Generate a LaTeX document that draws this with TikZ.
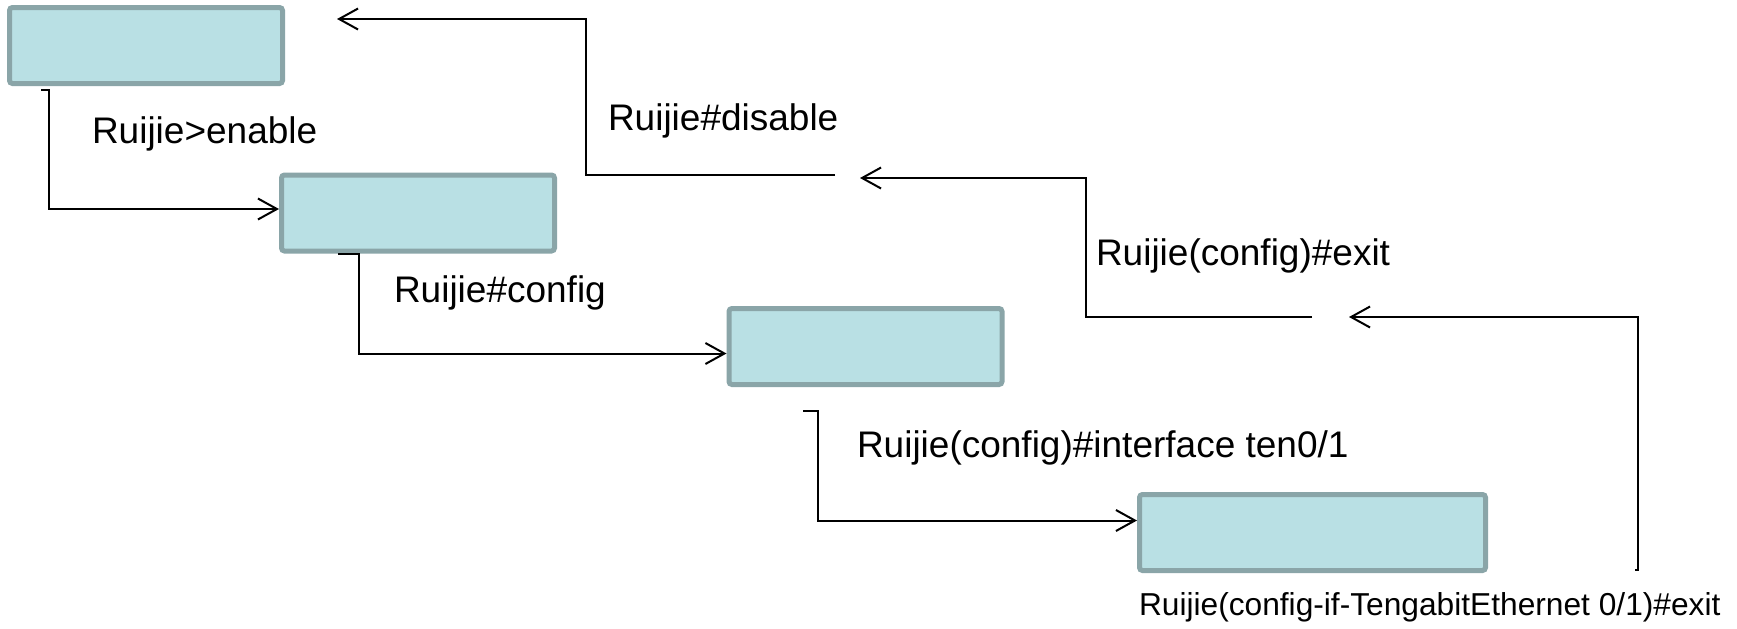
\documentclass[tikz,border=0pt]{standalone}
\usepackage{fontspec}
\setmainfont{Liberation Sans}
\usepackage{tikz}
\usetikzlibrary{arrows.meta}
\definecolor{boxfill}{RGB}{185,224,228}
\definecolor{boxline}{RGB}{138,165,168}
\tikzstyle{stagebox}=[draw=boxline,%
                      fill=boxfill,%
                      rectangle,%
                      rounded corners=1.5pt,%
                      line width=2.5pt,%
                      minimum width=136.5pt,%
                      minimum height=38pt]
\tikzstyle{widebox}=[stagebox, minimum width=173pt]
\tikzstyle{cmd}=[anchor=base west, inner sep=0pt, font=\fontsize{18.5}{22}\selectfont]
\tikzstyle{smallcmd}=[cmd, font=\fontsize{15.85}{19}\selectfont]

\begin{document}
\begin{tikzpicture}[x=0.5pt, y=-0.5pt, line width=1pt,
                    >={Straight Barb[length=9.5pt,width=10.5pt]}]
            \path[fill=white,use as bounding box] (0,0) rectangle (1737,628);
            \node[stagebox] (a) at (146,45.5)    {};
            \node[stagebox] (b) at (418,213)     {};
            \node[stagebox] (c) at (865.5,346.5) {};
            \node[widebox]  (d) at (1312.5,532.5) {};
            \node[cmd] (enable)  at (91,143)  {Ruijie>enable};
            \node[cmd] (config)  at (393,302) {Ruijie\#config};
            \node[cmd] (iface)   at (856,457) {Ruijie(config)\#interface ten0/1};
            \node[cmd] (disable) at (607,130) {Ruijie\#disable};
            \node[cmd] (exit)    at (1095,265) {Ruijie(config)\#exit};
            \node[smallcmd] (ifexit) at (1138,615) {Ruijie(config-if-TengabitEthernet 0/1)\#exit};
            % forward
            \coordinate (t1) at (41,90);
            \coordinate (t2) at (338,254);
            \coordinate (t3) at (803,411);
            \draw [->] (t1) -- ++(8,0) |- ([yshift=2pt]b.west);
            \draw [->] (t2) -- ++(21,0) |- ([yshift=-3.5pt]c.west);
            \draw [->] (t3) -- ++(15,0) |- ([yshift=6pt]d.west);
            % back
            \coordinate (t4) at (1635,570);
            \coordinate (e4) at (1349,317);
            \coordinate (s3) at (1312,317);
            \coordinate (e3) at (860,178);
            \coordinate (s2) at (835,175);
            \coordinate (e2) at (337,19);
            \draw [->] (t4) -- ++(3,0) |- (e4);
            \draw [->] (s3) -- ++(-226,0) |- (e3);
            \draw [->] (s2) -- ++(-249,0) |- (e2);
  \end{tikzpicture}
\end{document}
